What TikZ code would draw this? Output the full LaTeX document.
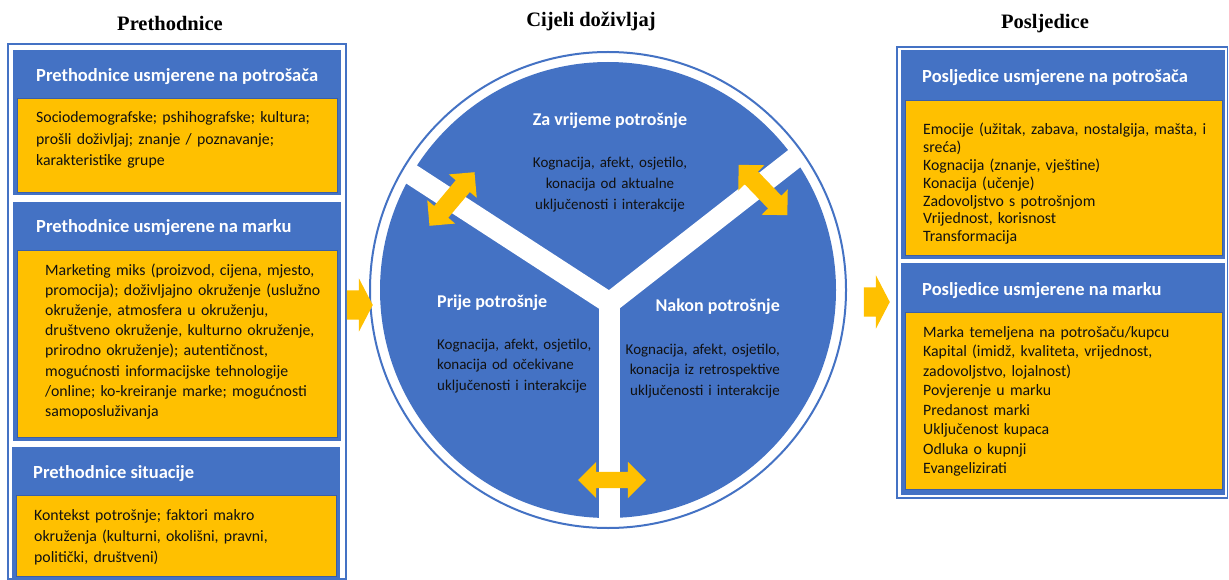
\documentclass[tikz,border=0pt]{standalone}
\usepackage{fontspec}
\newfontfamily\calfont{Carlito}
\newfontfamily\tmsfont{Liberation Serif}
\usetikzlibrary{shapes.arrows,calc}
\definecolor{ofblue}{HTML}{4472C4}
\definecolor{amber}{HTML}{FFC000}
\definecolor{ink}{HTML}{111111}
\definecolor{edgeblue}{HTML}{3A5FA8}
\begin{document}
\begin{tikzpicture}[x=1pt,y=-1pt,
  frame/.style={draw=ofblue, line width=1.8pt},
  bluebox/.style={fill=ofblue},
  ylwbox/.style={fill=amber, draw=edgeblue, line width=0.9pt},
  headtxt/.style={font=\calfont\bfseries\fontsize{18}{21}\selectfont, text=white, inner sep=0pt},
  boxhead/.style={headtxt, font=\calfont\bfseries\fontsize{18.5}{21}\selectfont, anchor=base west},
  body/.style={font=\calfont\fontsize{15.8}{#1}\selectfont, text=ink, inner sep=0pt, text width=320pt, align=left, anchor=base west},
  circ/.style={font=\calfont\fontsize{15}{20.8}\selectfont, text=ink, inner sep=0pt, text width=180pt},
  ttl/.style={font=\tmsfont\bfseries\fontsize{20.5}{24}\selectfont, inner sep=0pt, anchor=base},
  dbl/.style={double arrow, fill=amber, inner xsep=0pt, inner ysep=9pt, minimum height=70pt, double arrow head extend=9pt},
  sgl/.style={single arrow, fill=amber, inner xsep=0pt, inner ysep=14.5pt, minimum height=26pt, single arrow head extend=12pt, single arrow tip angle=125}
]
\useasboundingbox (0,0) rectangle (1229,580);
\fill[white] (0,0) rectangle (1229,580);

% titles
\node[ttl] (t1) at (170,30.5) {Prethodnice};
\node[ttl] (t2) at (591,26.5) {Cijeli doživljaj};
\node[ttl] (t3) at (1045,28.5) {Posljedice};

% left column
\draw[frame] (8,44) rectangle (346,579);
\fill[bluebox] (12.5,50) rectangle (341,195.5);
\filldraw[ylwbox] (17,98) rectangle (337,192);
\fill[bluebox] (12.5,202) rectangle (341,441);
\filldraw[ylwbox] (17,250) rectangle (337,437);
\fill[bluebox] (11.5,447) rectangle (339.5,578);
\filldraw[ylwbox] (16,495) rectangle (336,576);

\node[boxhead] (lh1) at (36,82) {Prethodnice usmjerene na potrošača};
\node[body=21.5] (lb1) at (36,123) {Sociodemografske; pshihografske; kultura;\\ prošli doživljaj; znanje / poznavanje;\\ karakteristike grupe};
\node[boxhead] (lh2) at (36,233) {Prethodnice usmjerene na marku};
\node[body=20.2] (lb2) at (45,275) {Marketing miks (proizvod, cijena, mjesto,\\ promocija); doživljajno okruženje (uslužno\\ okruženje, atmosfera u okruženju,\\ društveno okruženje, kulturno okruženje,\\ prirodno okruženje); autentičnost,\\ mogućnosti informacijske tehnologije\\ /online; ko-kreiranje marke; mogućnosti\\ samoposluživanja};
\node[boxhead] (lh3) at (33,478) {Prethodnice situacije};
\node[body=21] (lb3) at (34,520) {Kontekst potrošnje; faktori makro\\ okruženja (kulturni, okolišni, pravni,\\ politički, društveni)};

% right column
\draw[frame] (897,47) rectangle (1227.5,498);
\fill[bluebox] (900.5,50) rectangle (1225,259);
\filldraw[ylwbox] (905,100) rectangle (1222,255);
\fill[bluebox] (900.5,263) rectangle (1225,494.5);
\filldraw[ylwbox] (905,312) rectangle (1222,489);

\node[boxhead] (rh1) at (922,83) {Posljedice usmjerene na potrošača};
\node[body=17.8] (rb1) at (923,135) {Emocije (užitak, zabava, nostalgija, mašta, i\\ sreća)\\ Kognacija (znanje, vještine)\\ Konacija (učenje)\\ Zadovoljstvo s potrošnjom\\ Vrijednost, korisnost\\ Transformacija};
\node[boxhead] (rh2) at (922,295) {Posljedice usmjerene na marku};
\node[body=19.5] (rb2) at (923,337) {Marka temeljena na potrošaču/kupcu\\ Kapital (imidž, kvaliteta, vrijednost,\\ zadovoljstvo, lojalnost)\\ Povjerenje u marku\\ Predanost marki\\ Uključenost kupaca\\ Odluka o kupnji\\ Evangelizirati};

% circle
\coordinate (C) at (608,290);
\coordinate (J) at (609.5,303);
\draw[ofblue, line width=2pt] (C) circle (238pt);
\fill[ofblue] (C) circle (228pt);
\begin{scope}
  \clip (C) circle (233pt);
  \draw[white, line width=21pt, line join=miter] ($(J)+(213:300)$) -- (J) -- ($(J)+(322:300)$);
  \draw[white, line width=21pt] (J) -- ($(J)+(90:300)$);
\end{scope}

% arrows
\node[sgl, anchor=tip] (inarrow) at (373,305) {};
\node[sgl, anchor=tip] (outarrow) at (890,302) {};
\node[dbl, rotate=50] (armL) at (452,199) {};
\node[dbl, rotate=-46] (armR) at (763,190) {};
\node[dbl, minimum height=68pt, inner ysep=8pt, double arrow head extend=10pt] (stemarrow) at (612,480) {};

% circle texts
\node[headtxt, anchor=base] (zahead) at (610,126) {Za vrijeme potrošnje};
\node[circ, align=center, anchor=base] (zabody) at (610,168) {Kognacija, afekt, osjetilo,\\ konacija od aktualne\\ uključenosti i interakcije};
\node[headtxt, anchor=base west] (prijehead) at (437,307) {Prije potrošnje};
\node[circ, align=left, anchor=base west] (prijebody) at (437,349) {Kognacija, afekt, osjetilo,\\ konacija od očekivane\\ uključenosti i interakcije};
\node[headtxt, anchor=base east] (nakonhead) at (780,311) {Nakon potrošnje};
\node[circ, align=right, anchor=base east] (nakonbody) at (780,354) {Kognacija, afekt, osjetilo,\\ konacija iz retrospektive\\ uključenosti i interakcije};
\end{tikzpicture}
\end{document}
